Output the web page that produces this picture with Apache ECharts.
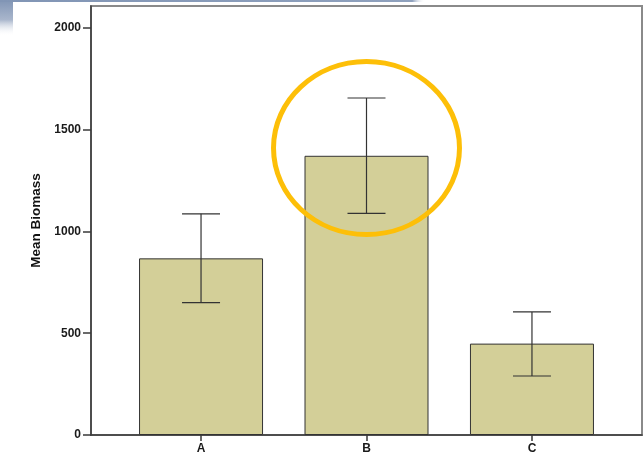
<!DOCTYPE html>
<html>
<head>
<meta charset="utf-8">
<script src="https://cdn.jsdelivr.net/npm/echarts@6/dist/echarts.min.js"></script>
<style>
  html, body { margin: 0; padding: 0; background: #ffffff; }
  #chart { width: 644px; height: 461px; }
</style>
</head>
<body>
<div id="chart"></div>
<script>
// Group labels and biomass summary (mean with error bar limits)
const groups = ['A', 'B', 'C'];
const meanBiomass = [868, 1372, 449];
const errLower = [650, 1089, 290];
const errUpper = [1087, 1656, 605];
const yTicks = [0, 500, 1000, 1500, 2000];

const chart = echarts.init(document.getElementById('chart'), null, { renderer: 'canvas' });

const barData = groups.map((g, i) => [i, meanBiomass[i]]);
const errData = groups.map((g, i) => [i, errLower[i], errUpper[i]]);

const axisDark = '#3a3a3a';
const labelFont = { fontFamily: 'Liberation Sans, Arial, sans-serif', fontWeight: 'bold', fontSize: 12, color: '#1a1a1a' };

chart.setOption({
  animation: false,
  backgroundColor: '#ffffff',
  grid: {
    left: 91, right: 2, top: 6, bottom: 26,
    show: true, borderColor: '#8a8a8a', borderWidth: 2, backgroundColor: 'transparent'
  },
  xAxis: {
    type: 'value',
    min: -0.665, max: 2.665,
    splitLine: { show: false },
    axisLine: { show: true, onZero: false, lineStyle: { color: axisDark, width: 1.5 } },
    axisTick: { show: true, length: 6, customValues: [0, 1, 2], lineStyle: { color: axisDark, width: 1.5 } },
    axisLabel: {
      ...labelFont, margin: 8,
      customValues: [0, 1, 2],
      formatter: v => groups[Math.round(v)]
    }
  },
  yAxis: {
    type: 'value',
    min: 0, max: 2108,
    name: 'Mean Biomass',
    nameLocation: 'middle',
    nameGap: 45,
    nameTextStyle: { fontFamily: 'Liberation Sans, Arial, sans-serif', fontWeight: 'bold', fontSize: 13.5, color: '#111' },
    splitLine: { show: false },
    axisLine: { show: true, onZero: false, lineStyle: { color: axisDark, width: 1.5 } },
    axisTick: { show: true, length: 8, customValues: yTicks, lineStyle: { color: axisDark, width: 1.5 } },
    axisLabel: { ...labelFont, margin: 10, customValues: yTicks, formatter: v => String(v) }
  },
  series: [
    {
      type: 'bar',
      data: barData,
      barWidth: 124,
      itemStyle: { color: '#d3cf98', borderColor: '#333333', borderWidth: 1 },
      z: 2
    },
    {
      type: 'custom',
      data: errData,
      z: 3,
      renderItem: function (params, api) {
        const x = api.value(0);
        const lo = api.coord([x, api.value(1)]);
        const hi = api.coord([x, api.value(2)]);
        const half = 19;
        const style = { stroke: '#333333', lineWidth: 1.2 };
        return {
          type: 'group',
          children: [
            { type: 'line', shape: { x1: hi[0], y1: hi[1], x2: lo[0], y2: lo[1] }, style },
            { type: 'line', shape: { x1: hi[0] - half, y1: hi[1], x2: hi[0] + half, y2: hi[1] }, style },
            { type: 'line', shape: { x1: lo[0] - half, y1: lo[1], x2: lo[0] + half, y2: lo[1] }, style }
          ]
        };
      }
    }
  ]
});

// Highlight ring around group B's mean and error bar, placed from data coordinates
const c = chart.convertToPixel({ gridIndex: 0 }, [1, 1410]);
const edgeX = chart.convertToPixel({ gridIndex: 0 }, [1.562, 1410]);
const edgeY = chart.convertToPixel({ gridIndex: 0 }, [1, 1835]);

chart.setOption({
  graphic: [
    {
      type: 'rect', left: 0, top: 0, z: 100,
      shape: { width: 13, height: 36 },
      style: {
        fill: new echarts.graphic.LinearGradient(0, 0, 0, 1, [
          { offset: 0, color: '#8195b5' },
          { offset: 0.55, color: '#a9b6cc' },
          { offset: 1, color: 'rgba(255,255,255,0)' }
        ])
      }
    },
    {
      type: 'rect', left: 0, top: 0, z: 100,
      shape: { width: 425, height: 2 },
      style: {
        fill: new echarts.graphic.LinearGradient(0, 0, 1, 0, [
          { offset: 0, color: '#8195b5' },
          { offset: 0.97, color: '#8fa1bd' },
          { offset: 1, color: 'rgba(255,255,255,0)' }
        ])
      }
    },
    {
      type: 'ellipse', z: 100,
      shape: { cx: c[0], cy: c[1], rx: edgeX[0] - c[0], ry: c[1] - edgeY[1] },
      style: { fill: 'none', stroke: '#fdbf08', lineWidth: 5 }
    }
  ]
});
</script>
</body>
</html>
